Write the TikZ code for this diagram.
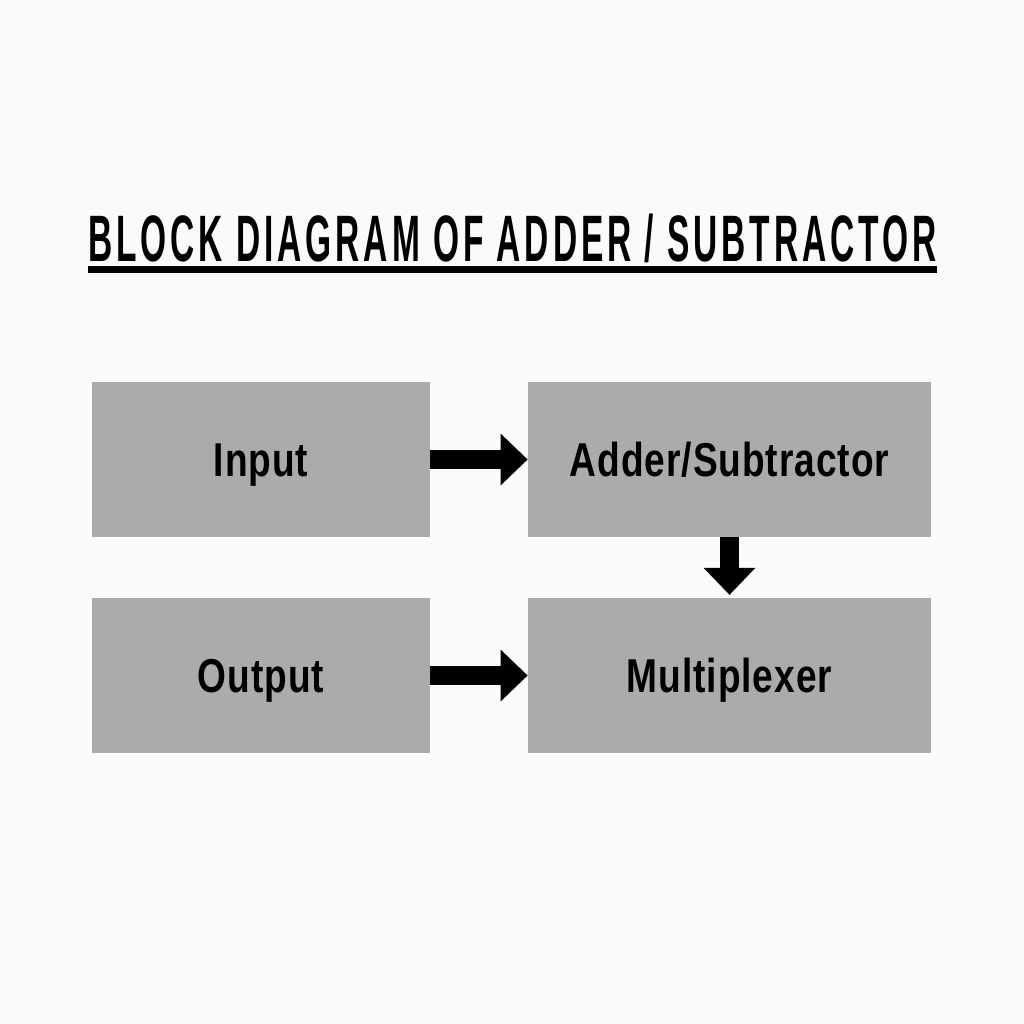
\documentclass[tikz,border=0pt]{standalone}
\usepackage{fontspec}
\setmainfont{Liberation Sans}
\newfontfamily\titlefont[FakeStretch=0.51,LetterSpace=6.0]{Liberation Sans}
\newfontfamily\blockfont[FakeStretch=0.78,LetterSpace=2]{Liberation Sans}
\usetikzlibrary{arrows.meta}
\definecolor{blockgray}{HTML}{ABABAB}
\definecolor{paper}{HTML}{FAFAFA}

\begin{document}
\begin{tikzpicture}[x=0.025cm,y=-0.025cm,>=Latex,
  block/.style={fill=blockgray, minimum height=3.875cm, inner sep=0pt,
    text height=24.2pt, text depth=0pt,
    font=\blockfont\bfseries\fontsize{33.8}{40}\selectfont},
  flow/.style={line width=13.5pt, -{Triangle[length=19.2pt,width=35.6pt]}}]
\fill[paper] (0,0) rectangle (1024,1024);
\useasboundingbox (0,0) rectangle (1024,1024);
% title
\node[inner xsep=0pt, inner ysep=0.175cm, text height=33.4pt, text depth=0pt,
  font=\titlefont\bfseries\fontsize{46.7}{56}\selectfont] (title) at (512.5,238.5)
  {BLOCK DIAGRAM OF ADDER / SUBTRACTOR};
\draw[line width=5pt] (title.south west) -- (title.south east);
% blocks
\node[block, minimum width=8.45cm] (inp) at (261,459.5) {Input};
\node[block, minimum width=10.075cm] (addsub) at (729.5,459.5) {Adder/Subtractor};
\node[block, minimum width=8.45cm] (outp) at (261,675.5) {Output};
\node[block, minimum width=10.075cm] (mux) at (729.5,675.5) {Multiplexer};
% arrows
\draw[flow] (inp.east) -- (addsub.west);
\draw[flow, shorten >=2pt] (addsub.south) -- (mux.north);
\draw[flow] (outp.east) -- (mux.west);
\end{tikzpicture}
\end{document}
